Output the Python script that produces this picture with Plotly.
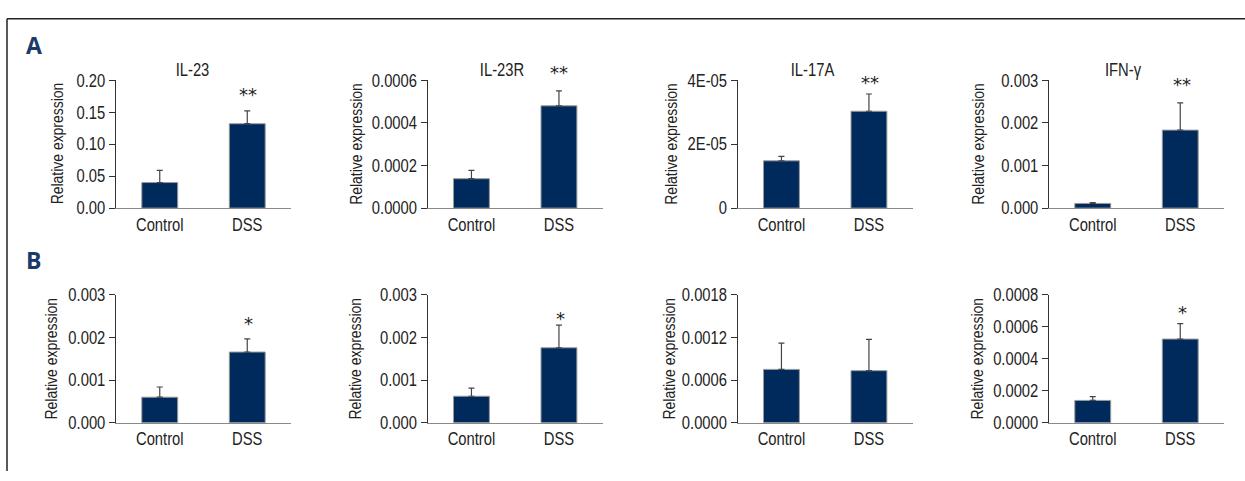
import plotly.graph_objects as go

# ---- data -------------------------------------------------------------
categories = ["Control", "DSS"]

titles_a = ["IL-23", "IL-23R", "IL-17A", "IFN-γ"]

# Row A: mean relative expression and SEM (Control, DSS)
a_mean = [
    [0.040, 0.132],
    [0.000138, 0.000480],
    [1.48e-05, 3.03e-05],
    [0.00011, 0.00183],
]
a_sem = [
    [0.019, 0.020],
    [0.000039, 0.000070],
    [0.14e-05, 0.54e-05],
    [0.00002, 0.00064],
]
a_sig = ["**", "**", "**", "**"]

# Row B: mean relative expression and SEM (Control, DSS)
b_mean = [
    [0.00060, 0.00166],
    [0.000623, 0.00176],
    [0.000752, 0.000734],
    [0.00014, 0.000524],
]
b_sem = [
    [0.00024, 0.00031],
    [0.00019, 0.00053],
    [0.00037, 0.00044],
    [0.000024, 0.000096],
]
b_sig = ["*", "*", "", "*"]

# y-axis tick values / labels per panel
a_ticks = [
    [0.00, 0.05, 0.10, 0.15, 0.20],
    [0.0, 0.0002, 0.0004, 0.0006],
    [0.0, 2e-05, 4e-05],
    [0.0, 0.001, 0.002, 0.003],
]
a_ticktext = [
    ["0.00", "0.05", "0.10", "0.15", "0.20"],
    ["0.0000", "0.0002", "0.0004", "0.0006"],
    ["0", "2E-05", "4E-05"],
    ["0.000", "0.001", "0.002", "0.003"],
]
b_ticks = [
    [0.0, 0.001, 0.002, 0.003],
    [0.0, 0.001, 0.002, 0.003],
    [0.0, 0.0006, 0.0012, 0.0018],
    [0.0, 0.0002, 0.0004, 0.0006, 0.0008],
]
b_ticktext = [
    ["0.000", "0.001", "0.002", "0.003"],
    ["0.000", "0.001", "0.002", "0.003"],
    ["0.0000", "0.0006", "0.0012", "0.0018"],
    ["0.0000", "0.0002", "0.0004", "0.0006", "0.0008"],
]

# ---- layout geometry (pixels) -----------------------------------------
W, H = 1245, 481
FONT = "Liberation Sans, Arial, sans-serif"
STAR_FONT = "DejaVu Sans, sans-serif"
NAVY = "#002a5c"
INK = "#222222"

col_x = [(116, 291), (427.7, 602.7), (737.7, 912.7), (1049, 1224)]
row_y = [(73.3, 206.7), (297.3, 430.7)]
ylabel_x = [[57.5, 356, 671, 978], [52, 356, 670, 978]]
title_x = [192, 502, 812, 1123]
star_pos = [
    [(248, 85), (559, 62), (870, 73), (1182, 75)],
    [(248, 324), (560, 319), None, (1182, 313)],
]


def px_x(v):
    return v / W


def px_y(v):
    return 1 - v / H


fig = go.Figure()
layout = dict(
    width=W,
    height=H,
    margin=dict(l=0, r=0, t=0, b=0),
    paper_bgcolor="white",
    plot_bgcolor="white",
    showlegend=False,
    font=dict(family=FONT, size=17, color=INK),
)
annotations = []
shapes = []

rows = [(a_mean, a_sem, a_ticks, a_ticktext), (b_mean, b_sem, b_ticks, b_ticktext)]
idx = 0
for r, (means, sems, ticks, ticktext) in enumerate(rows):
    for c in range(4):
        idx += 1
        xa = "x" if idx == 1 else f"x{idx}"
        ya = "y" if idx == 1 else f"y{idx}"
        fig.add_trace(
            go.Bar(
                x=categories,
                y=means[c],
                width=0.41,
                marker=dict(color=NAVY, line=dict(color="#9a9a9a", width=1)),
                error_y=dict(
                    type="data",
                    symmetric=False,
                    array=sems[c],
                    arrayminus=[0, 0],
                    color="#444444",
                    thickness=1.2,
                    width=3,
                ),
                xaxis=xa,
                yaxis=ya,
            )
        )
        x0, x1 = col_x[c]
        y0, y1 = row_y[r]
        layout["xaxis" if idx == 1 else f"xaxis{idx}"] = dict(
            domain=[px_x(x0), px_x(x1)],
            anchor=ya,
            range=[-0.5, 1.5],
            showline=True,
            linecolor="#8a8a8a",
            linewidth=1.2,
            ticks="",
            showgrid=False,
            zeroline=False,
            tickfont=dict(family=FONT, size=18, color=INK),
            fixedrange=True,
        )
        layout["yaxis" if idx == 1 else f"yaxis{idx}"] = dict(
            domain=[px_y(y1), px_y(y0)],
            anchor=xa,
            range=[0, ticks[c][-1]],
            tickvals=ticks[c],
            ticktext=ticktext[c],
            ticks="outside",
            ticklen=6,
            tickcolor="#333333",
            showline=True,
            linecolor="#333333",
            linewidth=1.2,
            showgrid=False,
            zeroline=False,
            tickfont=dict(family=FONT, size=18, color=INK),
            fixedrange=True,
        )
        # y-axis title
        annotations.append(
            dict(
                text="Relative expression",
                x=px_x(ylabel_x[r][c]),
                y=px_y((y0 + y1) / 2),
                xref="paper",
                yref="paper",
                textangle=-90,
                showarrow=False,
                xanchor="center",
                yanchor="middle",
                font=dict(family=FONT, size=17, color=INK),
            )
        )
        # significance marks
        sig = (a_sig if r == 0 else b_sig)[c]
        pos = star_pos[r][c]
        if sig and pos:
            annotations.append(
                dict(
                    text=sig,
                    x=px_x(pos[0]),
                    y=px_y(pos[1] + 3),
                    xref="paper",
                    yref="paper",
                    showarrow=False,
                    xanchor="center",
                    yanchor="middle",
                    font=dict(family=STAR_FONT, size=18, color=INK),
                )
            )

# gene titles on row A
for c, t in enumerate(titles_a):
    annotations.append(
        dict(
            text=t,
            x=px_x(title_x[c]),
            y=px_y(63),
            xref="paper",
            yref="paper",
            showarrow=False,
            xanchor="center",
            yanchor="middle",
            font=dict(family=FONT, size=18, color=INK),
        )
    )

# panel letters
for letter, yc in [("A", 36.5), ("B", 260.5)]:
    annotations.append(
        dict(
            text=f"<b>{letter}</b>",
            x=px_x(24),
            y=px_y(yc),
            xref="paper",
            yref="paper",
            showarrow=False,
            xanchor="left",
            yanchor="middle",
            font=dict(family="Open Sans, Arial, sans-serif", size=23, color="#1b3a6b"),
        )
    )

# frame lines (top and left)
shapes.append(dict(type="line", xref="paper", yref="paper",
                   x0=px_x(7), x1=1, y0=px_y(9), y1=px_y(9),
                   line=dict(color="#222222", width=1.5)))
shapes.append(dict(type="line", xref="paper", yref="paper",
                   x0=px_x(7), x1=px_x(7), y0=px_y(9), y1=0,
                   line=dict(color="#222222", width=1.5)))

layout["annotations"] = annotations
layout["shapes"] = shapes
fig.update_layout(**layout)

# Page tweaks: no page margin, and narrow (condensed) rendering of the sans text.
post_js = """
document.documentElement.style.margin = '0';
document.documentElement.style.overflow = 'hidden';
document.body.style.margin = '0';
document.body.style.overflow = 'hidden';
var gd = document.getElementById('{plot_id}');
gd.querySelectorAll('text').forEach(function (t) {
  var ff = (t.style.fontFamily || '') + (t.getAttribute('style') || '');
  if (ff.indexOf('Liberation') < 0) { return; }
  var L = t.getComputedTextLength();
  if (L > 0) {
    t.setAttribute('textLength', (L * 0.82).toFixed(2));
    t.setAttribute('lengthAdjust', 'spacingAndGlyphs');
  }
});
"""

fig.write_html("out.html", post_script=post_js)
